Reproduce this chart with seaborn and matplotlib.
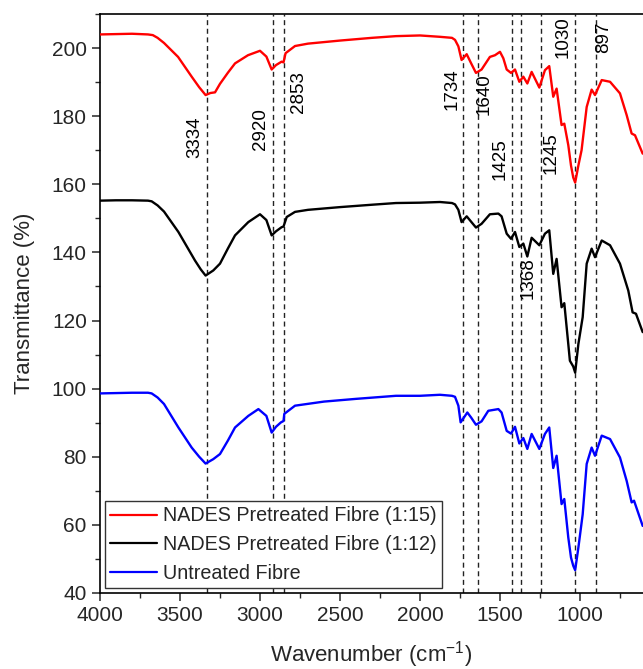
import numpy as np
import pandas as pd
import matplotlib
matplotlib.use("Agg")
import matplotlib.pyplot as plt
import seaborn as sns
from matplotlib.ticker import MultipleLocator

# ---------------- data ----------------
red_w = [4000, 3900, 3800, 3700, 3670, 3640, 3600, 3512, 3427, 3380, 3340, 3310, 3281, 3250, 3200, 3156,
         3075, 3000, 2960, 2927, 2900, 2865, 2853, 2840, 2781, 2700, 2500, 2300, 2150,
         2000, 1875, 1800, 1781, 1760, 1740, 1708, 1680, 1650, 1615, 1563, 1531, 1500, 1479,
         1458, 1431, 1406, 1379, 1354, 1329, 1302, 1254, 1219, 1192, 1167, 1146, 1115, 1098,
         1073, 1056, 1042, 1030, 1010, 990, 958, 927, 906, 864, 812, 750, 708, 677, 656, 608]
red_t = [204.0, 204.1, 204.2, 204.0, 203.8, 203.0, 201.5, 197.4, 191.6, 188.5, 186.2, 186.8, 187.0, 189.5, 192.8, 195.5,
         197.9, 199.2, 197.5, 193.7, 195.0, 196.0, 195.8, 198.5, 200.6, 201.3, 202.2, 203.0, 203.5,
         203.7, 203.3, 203.0, 202.4, 200.5, 196.5, 198.2, 195.5, 192.7, 193.7, 197.4, 197.9, 198.9, 197.0,
         193.7, 192.7, 193.7, 190.1, 191.6, 189.6, 193.0, 188.4, 193.5, 194.7, 185.7, 188.1, 177.4, 177.8,
         171.5, 165.5, 162.0, 160.5, 165.5, 170.0, 182.7, 187.8, 186.2, 190.6, 190.1, 186.7, 180.3, 174.9, 174.4, 169.0]

black_w = [4000, 3900, 3800, 3700, 3677, 3640, 3600, 3510, 3406, 3370, 3340, 3292, 3250, 3200, 3156, 3073,
           3000, 2960, 2927, 2900, 2865, 2853, 2833, 2781, 2700, 2500, 2300, 2150, 2000,
           1875, 1800, 1781, 1760, 1740, 1708, 1680, 1650, 1615, 1563, 1510, 1490, 1458, 1431,
           1406, 1379, 1354, 1329, 1302, 1254, 1219, 1192, 1167, 1146, 1115, 1098, 1073, 1063,
           1042, 1030, 1010, 983, 958, 927, 906, 864, 812, 750, 698, 671, 650, 608]
black_t = [155.2, 155.3, 155.3, 155.2, 155.0, 153.8, 152.0, 146.0, 137.6, 135.0, 133.2, 134.7, 136.7, 141.2, 145.0, 148.9,
           151.2, 149.5, 145.0, 146.2, 147.4, 147.6, 150.4, 151.9, 152.5, 153.3, 154.0, 154.5, 154.6,
           154.8, 154.5, 154.1, 152.5, 148.9, 150.6, 149.0, 147.3, 148.4, 151.2, 151.4, 150.6, 145.5, 144.0,
           146.0, 141.6, 142.6, 138.8, 144.3, 142.1, 145.5, 146.5, 133.7, 138.1, 123.9, 125.1, 113.1, 108.2,
           106.5, 104.7, 113.1, 121.0, 136.7, 141.1, 138.6, 143.5, 142.1, 136.7, 128.8, 122.4, 122.0, 116.6]

blue_w = [4000, 3900, 3800, 3700, 3677, 3640, 3600, 3510, 3427, 3380, 3340, 3292, 3250, 3200, 3156, 3073,
          3010, 2960, 2927, 2900, 2869, 2853, 2848, 2781, 2600, 2400, 2150, 2000, 1875,
          1800, 1781, 1760, 1746, 1704, 1680, 1650, 1615, 1573, 1510, 1490, 1458, 1431, 1406,
          1379, 1354, 1329, 1302, 1254, 1219, 1192, 1167, 1146, 1115, 1098, 1073, 1056, 1042,
          1030, 1010, 983, 958, 927, 906, 864, 812, 750, 708, 677, 662, 608]
blue_t = [98.6, 98.7, 98.8, 98.8, 98.6, 97.4, 95.5, 88.6, 82.7, 80.0, 78.0, 79.3, 80.8, 84.8, 88.6, 92.0,
          94.0, 92.0, 87.1, 88.8, 90.1, 90.5, 92.6, 95.0, 96.2, 97.0, 97.9, 97.9, 98.2,
          97.9, 97.6, 95.0, 90.1, 93.0, 91.5, 89.4, 90.4, 93.5, 94.0, 93.0, 87.6, 86.8, 88.8,
          83.9, 85.5, 82.3, 86.7, 82.3, 86.7, 88.6, 76.7, 80.3, 66.1, 67.6, 56.3, 50.4, 48.0,
          46.7, 53.3, 63.1, 77.9, 82.7, 80.3, 86.2, 85.2, 79.8, 72.9, 66.6, 67.1, 59.7]

series_names = ["NADES Pretreated Fibre (1:15)", "NADES Pretreated Fibre (1:12)", "Untreated Fibre"]
series_colors = ["#ff0000", "#000000", "#0000ff"]

peaks = [3334, 2920, 2853, 1734, 1640, 1425, 1368, 1245, 1030, 897]
peak_labels = ["3334", "2920", "2853", "1734", "1640", "1425", "1368", "1245", "1030", "897"]

x_ticks = [4000, 3500, 3000, 2500, 2000, 1500, 1000]
y_ticks = [40, 60, 80, 100, 120, 140, 160, 180, 200]

# ---------------- layout (positions of peak annotations, data coords) ----------------
label_pos = [(3406, 173.7), (2996, 176.3), (2760, 187.0), (1802, 188.0), (1600, 186.5),
             (1500, 167.4), (1327, 132.5), (1180, 169.1), (1104, 203.2), (854, 203.3)]

frames = []
for name, w, t in zip(series_names, [red_w, black_w, blue_w], [red_t, black_t, blue_t]):
    frames.append(pd.DataFrame({"Wavenumber": w, "Transmittance": t, "Sample": name}))
df = pd.concat(frames, ignore_index=True)

sns.set_style("ticks")
plt.rcParams["font.family"] = ["Liberation Sans", "DejaVu Sans"]
plt.rcParams["mathtext.fontset"] = "custom"
plt.rcParams["mathtext.rm"] = "Liberation Sans"
plt.rcParams["mathtext.it"] = "Liberation Sans"

fig = plt.figure(figsize=(6.43, 6.69), dpi=100)
ax = fig.add_axes([100 / 643, 1 - 593 / 669, 543 / 643, (593 - 14) / 669])

for p in peaks:
    ax.axvline(p, color="#222222", lw=1.0, ls=(0, (3.6, 2.6)), zorder=1)

sns.lineplot(data=df, x="Wavenumber", y="Transmittance", hue="Sample",
             hue_order=series_names, palette=dict(zip(series_names, series_colors)),
             estimator=None, sort=True, lw=1.7, ax=ax, zorder=3)

for lab, (lx, ly) in zip(peak_labels, label_pos):
    ax.text(lx, ly, lab, rotation=90, ha="center", va="center", fontsize=13.5, color="black")

ax.set_xlim(4000, 606)
ax.set_ylim(40, 210)
ax.set_xticks(x_ticks)
ax.set_yticks(y_ticks)
ax.xaxis.set_minor_locator(MultipleLocator(250))
ax.yaxis.set_minor_locator(MultipleLocator(10))
ax.tick_params(axis="both", which="major", direction="out", length=6, width=1.1, labelsize=15)
ax.tick_params(axis="both", which="minor", direction="out", length=3.5, width=1.0)
ax.tick_params(top=False, right=False, which="both")
for s in ["left", "bottom", "top"]:
    ax.spines[s].set_linewidth(1.2)
    ax.spines[s].set_color("black")
ax.spines["right"].set_visible(False)

ax.set_xlabel("Wavenumber (cm$^{-1}$)", fontsize=16, labelpad=10)
ax.set_ylabel("Transmittance (%)", fontsize=16, labelpad=12)

handles, labels = ax.get_legend_handles_labels()
leg = ax.legend(handles, labels, loc="lower left", frameon=True, fancybox=False,
                edgecolor="#333333", framealpha=1, fontsize=14.2, handlelength=2.4,
                handletextpad=0.3, borderpad=0.25, labelspacing=0.5, borderaxespad=0.25)
leg.get_frame().set_linewidth(1.0)
for line in leg.get_lines():
    line.set_linewidth(1.6)

fig.savefig("out.png", dpi=100)
